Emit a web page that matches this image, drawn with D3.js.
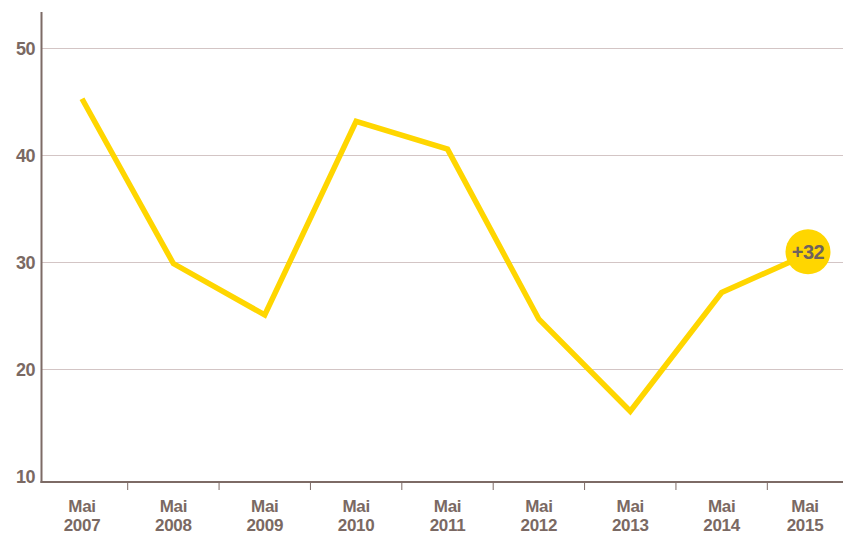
<!DOCTYPE html>
<html>
<head>
<meta charset="utf-8">
<script src="https://cdn.jsdelivr.net/npm/d3@7"></script>
<style>
  html, body { margin: 0; padding: 0; background: #fff; }
  svg text { font-family: "Liberation Sans", Arial, sans-serif; font-weight: bold; }
</style>
</head>
<body>
<div id="app"></div>
<script>
const months = ['Mai', 'Mai', 'Mai', 'Mai', 'Mai', 'Mai', 'Mai', 'Mai', 'Mai'];
const years = ['2007', '2008', '2009', '2010', '2011', '2012', '2013', '2014', '2015'];
const values = [45.3, 29.9, 25.1, 43.2, 40.6, 24.7, 16.1, 27.2, 31.0];
const yTicks = [10, 20, 30, 40, 50];
const badge = '+32';

const width = 843;
const height = 536;
const textColor = '#7a6963';
const axisColor = '#7d6b66';
const gridColor = '#d3c5c5';
const lineColor = '#ffd600';

const svg = d3.select('#app').append('svg')
	.attr('width', width)
	.attr('height', height);

const x = d3.scalePoint()
	.domain(years)
	.range([82, 813]);

const y = d3.scaleLinear()
	.domain([10, 50])
	.range([476.5, 48.5]);

const axisY = 482;
const axisX = 41.5;

// grid lines
svg.append('g')
	.selectAll('line')
	.data(yTicks.filter((d) => d > 10))
	.enter()
	.append('line')
	.attr('x1', axisX)
	.attr('x2', width)
	.attr('y1', (d) => y(d))
	.attr('y2', (d) => y(d))
	.attr('stroke', gridColor)
	.attr('stroke-width', 1.2);

// y labels
svg.append('g')
	.selectAll('text')
	.data(yTicks)
	.enter()
	.append('text')
	.attr('x', 35)
	.attr('y', (d) => y(d))
	.attr('text-anchor', 'end')
	.attr('dominant-baseline', 'central')
	.attr('fill', textColor)
	.attr('font-size', 18)
	.attr('letter-spacing', -0.5)
	.text((d) => d);

// axes
svg.append('line')
	.attr('x1', axisX).attr('x2', axisX)
	.attr('y1', 12).attr('y2', axisY + 1)
	.attr('stroke', axisColor)
	.attr('stroke-width', 2);

svg.append('line')
	.attr('x1', axisX - 1).attr('x2', width)
	.attr('y1', axisY).attr('y2', axisY)
	.attr('stroke', axisColor)
	.attr('stroke-width', 2);

// ticks between categories
const step = x.step();
svg.append('g')
	.selectAll('line')
	.data(years.slice(1))
	.enter()
	.append('line')
	.attr('x1', (d) => x(d) - step / 2)
	.attr('x2', (d) => x(d) - step / 2)
	.attr('y1', axisY)
	.attr('y2', axisY + 8)
	.attr('stroke', axisColor)
	.attr('stroke-width', 1);

// x labels
const labelX = (d, i) => i === years.length - 1 ? x(d) - 8 : x(d);

const labels = svg.append('g')
	.selectAll('text')
	.data(years)
	.enter()
	.append('text')
	.attr('x', labelX)
	.attr('text-anchor', 'middle')
	.attr('fill', textColor)
	.attr('font-size', 17)
	.attr('letter-spacing', -0.3);

labels.append('tspan')
	.attr('y', 512)
	.text((d, i) => months[i]);

labels.append('tspan')
	.attr('x', labelX)
	.attr('y', 531)
	.text((d) => d);

// line
const line = d3.line()
	.x((d, i) => x(years[i]))
	.y((d) => y(d));

svg.append('path')
	.datum(values)
	.attr('d', line)
	.attr('fill', 'none')
	.attr('stroke', lineColor)
	.attr('stroke-width', 5.5)
	.attr('stroke-linejoin', 'miter');

// end badge
const last = values.length - 1;
const g = svg.append('g')
	.attr('transform', `translate(${x(years[last]) - 5}, ${y(values[last])})`);

g.append('circle')
	.attr('r', 22.5)
	.attr('fill', lineColor);

g.append('text')
	.attr('text-anchor', 'middle')
	.attr('dominant-baseline', 'central')
	.attr('fill', '#6e625e')
	.attr('font-size', 20)
	.attr('letter-spacing', -0.5)
	.text(badge);
</script>
</body>
</html>
